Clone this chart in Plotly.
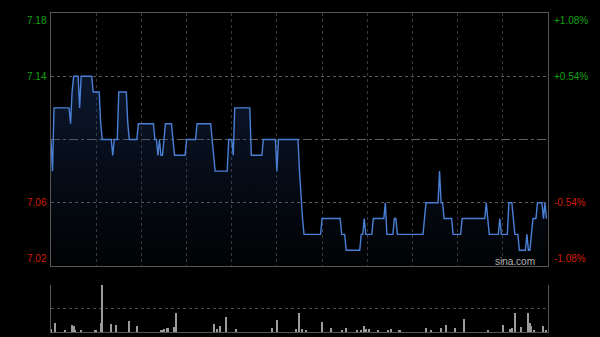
import plotly.graph_objects as go

# ---- data ----
price = (
    [7.10, 7.08] + [7.12]*11 + [7.11, 7.13] + [7.14]*4 + [7.12] + [7.14]*8 + [7.13]*5 + [7.11]
    + [7.10]*7 + [7.09] + [7.10]*3 + [7.13]*6 + [7.11] + [7.10]*6 + [7.11]*11 + [7.10]*2
    + [7.09, 7.10] + [7.09]*2 + [7.10] + [7.11]*5 + [7.10] + [7.09]*8 + [7.10]*7 + [7.11]*10
    + [7.10, 7.09] + [7.08]*9 + [7.10]*3 + [7.09] + [7.12]*11 + [7.09]*8 + [7.10]*9 + [7.08]
    + [7.10]*14 + [7.08, 7.06, 7.05] + [7.04]*12 + [7.05]*13 + [7.04]*3 + [7.03]*10 + [7.04]*2
    + [7.05] + [7.04]*5 + [7.05]*8 + [7.06] + [7.04]*5 + [7.05]*2 + [7.04]*18 + [7.05] + [7.06]*9
    + [7.08] + [7.06]*2 + [7.05]*6 + [7.04]*6 + [7.05]*16 + [7.06] + [7.05] + [7.04]*7 + [7.05]
    + [7.04]*5 + [7.06]*3 + [7.05] + [7.04]*3 + [7.03]*5 + [7.04] + [7.03]*2 + [7.04] + [7.05]*3
    + [7.06]*4 + [7.05, 7.06, 7.05]
)
minutes = list(range(len(price)))

vol_minutes = [0, 3, 9, 14, 15, 16, 20, 29, 30, 33, 34, 40, 43, 52, 57, 73, 74, 75, 77, 78, 82, 83,
               108, 110, 112, 116, 123, 147, 150, 163, 165, 167, 169, 180, 186, 193, 196, 203, 206,
               208, 209, 211, 217, 224, 226, 231, 232, 249, 252, 259, 262, 268, 274, 290, 300, 305,
               306, 308, 312, 317, 318, 319, 321, 327, 329]
vol_values = [6, 19, 3, 14, 12, 4, 5, 5, 3, 19, 100, 17, 14, 23, 12, 4, 3, 7, 9, 9, 11, 41,
              17, 7, 13, 32, 7, 9, 25, 7, 41, 7, 3, 21, 9, 5, 9, 5, 5,
              13, 7, 6, 5, 3, 6, 5, 5, 9, 3, 9, 14, 9, 28, 5, 14, 7,
              9, 41, 11, 41, 19, 13, 5, 13, 3]

left_labels = ["7.18", "7.14", "7.06", "7.02"]
left_values = [7.18, 7.14, 7.06, 7.02]
right_labels = ["+1.08%", "+0.54%", "-0.54%", "-1.08%"]
prev_close = 7.10
y_min, y_max = 7.02, 7.18
n_total = 330

GREEN = "#14a014"
RED = "#d01e0c"
FONT = "Liberation Sans, Arial, sans-serif"

fig = go.Figure()
fig.add_trace(go.Scatter(
    x=minutes, y=price, mode="lines",
    line=dict(color="#4a7fd6", width=1.4),
    fill="tozeroy",
    fillgradient=dict(type="vertical", start=y_min, stop=7.14,
                      colorscale=[[0, "rgba(30,60,110,0.03)"], [1, "rgba(30,60,120,0.38)"]]),
    xaxis="x", yaxis="y", hoverinfo="skip", showlegend=False,
))
fig.add_trace(go.Bar(
    x=vol_minutes, y=vol_values, width=0.7,
    marker=dict(color="#9a9a9a", line=dict(width=0)),
    xaxis="x2", yaxis="y2", hoverinfo="skip", showlegend=False,
))

vmax = max(vol_values)

fig.update_layout(
    width=600, height=337,
    margin=dict(l=51, r=52, t=13, b=5),
    paper_bgcolor="black", plot_bgcolor="black",
    font=dict(family=FONT, size=10),
    bargap=0,
    xaxis=dict(domain=[0, 1], range=[0, n_total], anchor="y",
               tickvals=list(range(30, n_total, 30)), showticklabels=False, ticks="",
               showgrid=True, gridcolor="#3a3a3a", griddash="dot", gridwidth=1,
               showline=True, linecolor="#555", mirror=True, zeroline=False),
    yaxis=dict(domain=[0.2069, 1], range=[y_min, y_max], anchor="x",
               tickvals=[7.14, 7.06], showticklabels=False, ticks="",
               showgrid=True, gridcolor="#5a5a5a", griddash="dot", gridwidth=1,
               showline=True, linecolor="#555", mirror=True, zeroline=False),
    xaxis2=dict(domain=[0, 1], range=[0, n_total], anchor="y2",
                showticklabels=False, ticks="", showgrid=False,
                showline=True, linecolor="#555", mirror=False, zeroline=False),
    yaxis2=dict(domain=[0, 0.1473], range=[0, vmax], anchor="x2",
                tickvals=[vmax / 2, vmax * 0.999], showticklabels=False, ticks="",
                showgrid=True, gridcolor="#4a4a4a", griddash="dot", gridwidth=1,
                showline=True, linecolor="#555", mirror=True, zeroline=False),
    shapes=[dict(type="line", xref="x", yref="y", x0=0, x1=n_total, y0=prev_close, y1=prev_close,
                 line=dict(color="#606060", width=1, dash="dashdot"), layer="below")],
)

anns = []
for i, (lab, val, rlab) in enumerate(zip(left_labels, left_values, right_labels)):
    col = GREEN if val > prev_close else RED
    if i == 0:
        ya = "top"
    elif i == len(left_labels) - 1:
        ya = "bottom"
    else:
        ya = "middle"
    anns.append(dict(x=0, xref="paper", y=val, yref="y", text=lab, showarrow=False,
                     xanchor="right", yanchor=ya, xshift=-2, font=dict(color=col, size=10, family=FONT)))
    anns.append(dict(x=1, xref="paper", y=val, yref="y", text=rlab, showarrow=False,
                     xanchor="left", yanchor=ya, xshift=4, font=dict(color=col, size=10, family=FONT)))
anns.append(dict(x=323, xref="x", y=7.0227, yref="y", text="sina.com", showarrow=False,
                 xanchor="right", yanchor="middle", font=dict(color="#b0b0b0", size=10, family=FONT)))
fig.update_layout(annotations=anns)

fig.write_html("out.html")
